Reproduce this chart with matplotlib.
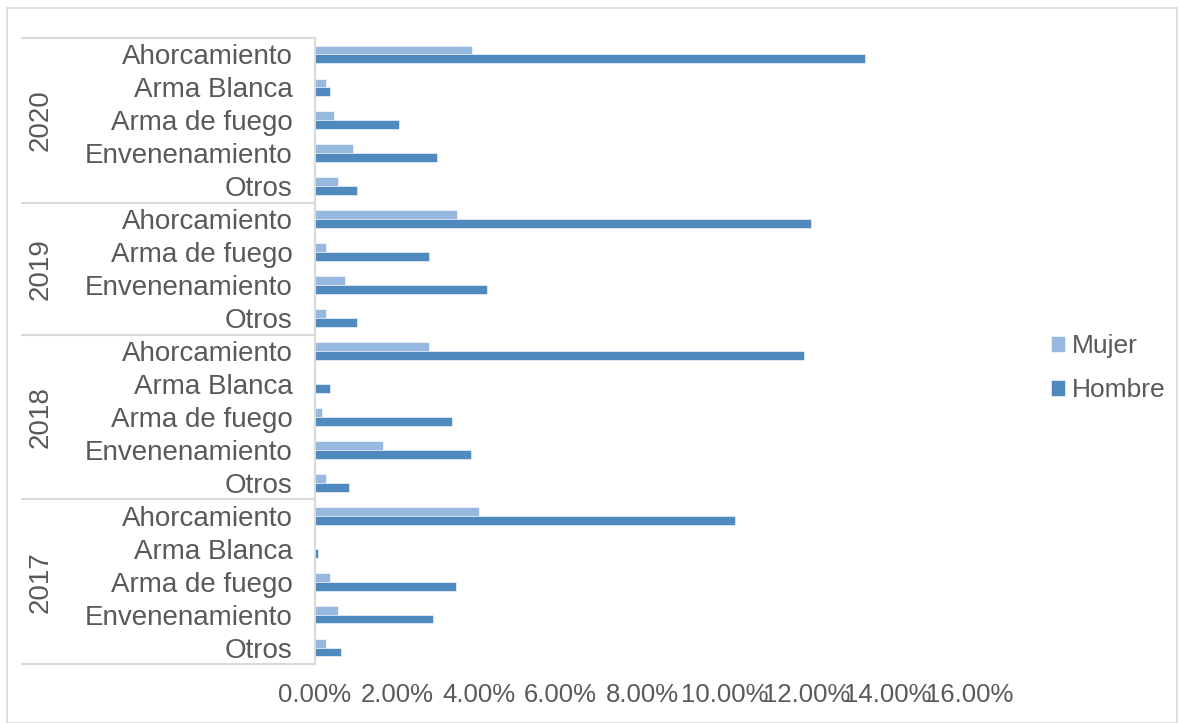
import matplotlib
matplotlib.use('Agg')
import matplotlib.pyplot as plt
import matplotlib.transforms as mtransforms
from matplotlib.patches import Rectangle
from matplotlib.ticker import FuncFormatter


years = ['2020', '2019', '2018', '2017']

cat_2020 = ['Ahorcamiento', 'Arma Blanca', 'Arma de fuego', 'Envenenamiento', 'Otros']
cat_2019 = ['Ahorcamiento', 'Arma de fuego', 'Envenenamiento', 'Otros']
cat_2018 = ['Ahorcamiento', 'Arma Blanca', 'Arma de fuego', 'Envenenamiento', 'Otros']
cat_2017 = ['Ahorcamiento', 'Arma Blanca', 'Arma de fuego', 'Envenenamiento', 'Otros']

# porcentajes (%)
mujer_2020 = [3.83, 0.27, 0.46, 0.93, 0.56]
hombre_2020 = [13.44, 0.37, 2.05, 2.98, 1.02]
mujer_2019 = [3.46, 0.27, 0.73, 0.27]
hombre_2019 = [12.12, 2.78, 4.20, 1.02]
mujer_2018 = [2.78, 0.0, 0.17, 1.66, 0.27]
hombre_2018 = [11.95, 0.37, 3.34, 3.80, 0.83]
mujer_2017 = [4.00, 0.0, 0.37, 0.56, 0.27]
hombre_2017 = [10.27, 0.07, 3.44, 2.88, 0.63]

x_ticks = [0, 2, 4, 6, 8, 10, 12, 14, 16]

MUJER_COLOR = '#97B9E0'
HOMBRE_COLOR = '#4F89BD'
TEXT_COLOR = '#595959'
LINE_COLOR = '#D9D9D9'
FONT = ['Liberation Sans', 'DejaVu Sans']

plt.rcParams['font.family'] = FONT


def build_rows():
    cats = [cat_2020, cat_2019, cat_2018, cat_2017]
    mujer = [mujer_2020, mujer_2019, mujer_2018, mujer_2017]
    hombre = [hombre_2020, hombre_2019, hombre_2018, hombre_2017]

    labels, m_vals, h_vals, groups = [], [], [], []
    start = 0
    for i in range(len(years)):
        labels += cats[i]
        m_vals += mujer[i]
        h_vals += hombre[i]
        groups.append((years[i], start, start + len(cats[i]) - 1))
        start += len(cats[i])
    return labels, m_vals, h_vals, groups


def plot_chart():
    labels, m_vals, h_vals, groups = build_rows()
    n = len(labels)
    pos = list(range(n))

    fig = plt.figure(figsize=(11.79, 7.23), dpi=100)
    fig.patches.append(Rectangle((7 / 1179, 0.0), 1170 / 1179, 715 / 723,
                                 transform=fig.transFigure, fill=False,
                                 edgecolor=LINE_COLOR, linewidth=1.2))

    ax = fig.add_axes([315 / 1179, 1 - 664 / 723, 655 / 1179, 626 / 723])

    h = 0.27
    ax.barh([p - h / 2 for p in pos], m_vals, height=h, color=MUJER_COLOR,
            edgecolor='white', linewidth=0.4, label='Mujer')
    ax.barh([p + h / 2 for p in pos], h_vals, height=h, color=HOMBRE_COLOR,
            edgecolor='white', linewidth=0.4, label='Hombre')

    ax.set_xlim(0, 16)
    ax.set_ylim(n - 0.5, -0.5)
    ax.set_xticks(x_ticks)
    ax.xaxis.set_major_formatter(FuncFormatter(lambda v, p: '{:.2f}%'.format(v)))
    ax.set_yticks(pos)
    ax.set_yticklabels(labels)
    ax.tick_params(axis='y', length=0, pad=16, labelsize=20, labelcolor=TEXT_COLOR)
    ax.tick_params(axis='x', length=0, pad=14, labelsize=18.5, labelcolor=TEXT_COLOR)

    for side in ['top', 'right', 'bottom']:
        ax.spines[side].set_visible(False)
    ax.spines['left'].set_color(LINE_COLOR)
    ax.spines['left'].set_linewidth(1.5)

    trans = mtransforms.blended_transform_factory(ax.transAxes, ax.transData)
    left = (22 - 315) / 655
    bounds = [-0.5] + [g[2] + 0.5 for g in groups]
    for y in bounds:
        ax.plot([left, 0], [y, y], color=LINE_COLOR, linewidth=1.5,
                transform=trans, clip_on=False)

    for name, a, b in groups:
        ax.text((41 - 315) / 655, (a + b) / 2, name, rotation=90, ha='center',
                va='center', fontsize=20, color=TEXT_COLOR, transform=trans)

    leg = fig.legend(loc='center left', bbox_to_anchor=(1027 / 1179, 1 - 368 / 723),
                     frameon=False, fontsize=19, handlelength=0.55, handleheight=0.55,
                     handletextpad=0.25, labelspacing=0.75)
    for t in leg.get_texts():
        t.set_color(TEXT_COLOR)

    fig.savefig('out.png', dpi=100)


plot_chart()
